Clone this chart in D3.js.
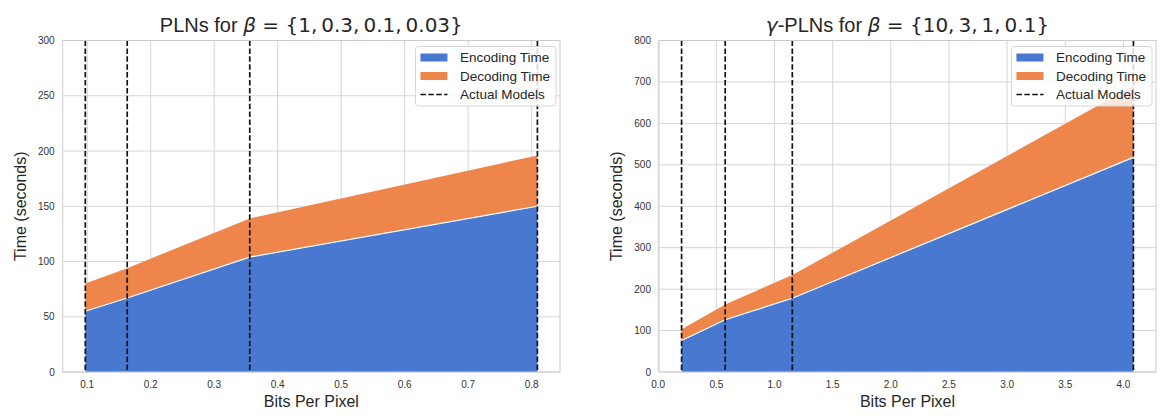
<!DOCTYPE html>
<html>
<head>
<meta charset="utf-8">
<script src="https://cdn.jsdelivr.net/npm/d3@7"></script>
<style>
  html, body { margin: 0; padding: 0; background: #fff; }
  svg { display: block; }
</style>
</head>
<body>
<script>
// ---- Data ----
const bppPLN = [0.097, 0.163, 0.356, 0.809];
const encPLN = [55, 67, 104, 150];
const decPLN = [25, 27, 35, 46];

const bppGPLN = [0.201, 0.576, 1.153, 4.086];
const encGPLN = [76, 126, 178, 518];
const decGPLN = [27, 37, 56, 172];

const xTicksPLN = [0.1, 0.2, 0.3, 0.4, 0.5, 0.6, 0.7, 0.8];
const yTicksPLN = [0, 50, 100, 150, 200, 250, 300];
const xTicksGPLN = [0.0, 0.5, 1.0, 1.5, 2.0, 2.5, 3.0, 3.5, 4.0];
const yTicksGPLN = [0, 100, 200, 300, 400, 500, 600, 700, 800];

const legendLabels = ["Encoding Time", "Decoding Time", "Actual Models"];

const W = 1161, H = 416;
const BLUE = "#4878d0", ORANGE = "#ee854a";
const svg = d3.select("body").append("svg").attr("width", W).attr("height", H);

function panel(opts) {
  const {left, right, top, bottom, bpp, enc, dec, xTicks, yTicks, yMax, xFmt, titleParts} = opts;
  const ext = d3.extent(bpp);
  const pad = (ext[1] - ext[0]) * 0.05;
  const x = d3.scaleLinear().domain([ext[0] - pad, ext[1] + pad]).range([left, right]);
  const y = d3.scaleLinear().domain([0, yMax]).range([bottom, top]);
  const g = svg.append("g");
  const clipId = "clip" + Math.round(left);
  g.append("clipPath").attr("id", clipId).append("rect")
    .attr("x", left).attr("y", top).attr("width", right - left).attr("height", bottom - top);

  // grid
  g.selectAll(".gx").data(xTicks).join("line")
    .attr("x1", d => x(d)).attr("x2", d => x(d)).attr("y1", top).attr("y2", bottom)
    .attr("stroke", "#d6d6d6").attr("stroke-width", 1);
  g.selectAll(".gy").data(yTicks).join("line")
    .attr("x1", left).attr("x2", right).attr("y1", d => y(d)).attr("y2", d => y(d))
    .attr("stroke", "#d6d6d6").attr("stroke-width", 1);

  const pts = bpp.map((b, i) => ({x: b, e: enc[i], t: enc[i] + dec[i]}));
  const plot = g.append("g").attr("clip-path", `url(#${clipId})`);
  plot.append("path").datum(pts)
    .attr("d", d3.area().x(d => x(d.x)).y0(d => y(d.e)).y1(d => y(d.t)))
    .attr("fill", ORANGE);
  plot.append("path").datum(pts)
    .attr("d", d3.area().x(d => x(d.x)).y0(y(0)).y1(d => y(d.e)))
    .attr("fill", BLUE);
  plot.append("path").datum(pts)
    .attr("d", d3.line().x(d => x(d.x)).y(d => y(d.e)))
    .attr("fill", "none").attr("stroke", "#fff").attr("stroke-width", 1.2);

  // dashed vertical lines
  plot.selectAll(".vl").data(bpp).join("line")
    .attr("x1", d => x(d)).attr("x2", d => x(d)).attr("y1", top).attr("y2", bottom)
    .attr("stroke", "#111").attr("stroke-width", 1.7).attr("stroke-dasharray", "5.5,2.4");

  // spines
  g.append("rect").attr("x", left).attr("y", top).attr("width", right - left).attr("height", bottom - top)
    .attr("fill", "none").attr("stroke", "#cccccc").attr("stroke-width", 1);

  // tick labels
  g.selectAll(".xt").data(xTicks).join("text")
    .attr("x", d => x(d)).attr("y", bottom + 16)
    .attr("text-anchor", "middle").attr("font-family", "Liberation Sans, Arial, sans-serif")
    .attr("font-size", 10).attr("fill", "#333").text(xFmt);
  g.selectAll(".yt").data(yTicks).join("text")
    .attr("x", left - 8).attr("y", d => y(d)).attr("dy", "0.35em")
    .attr("text-anchor", "end").attr("font-family", "Liberation Sans, Arial, sans-serif")
    .attr("font-size", 10).attr("fill", "#333").text(d => d);

  // axis labels
  g.append("text").attr("x", (left + right) / 2).attr("y", 407)
    .attr("text-anchor", "middle").attr("font-family", "Liberation Sans, Arial, sans-serif")
    .attr("font-size", 16).attr("fill", "#262626").text("Bits Per Pixel");
  g.append("text").attr("transform", `translate(${left - 37},${(top + bottom) / 2}) rotate(-90)`)
    .attr("text-anchor", "middle").attr("font-family", "Liberation Sans, Arial, sans-serif")
    .attr("font-size", 16).attr("fill", "#262626").text("Time (seconds)");

  // title
  const t = g.append("text").attr("x", (left + right) / 2).attr("y", 32)
    .attr("text-anchor", "middle").attr("font-size", 20).attr("fill", "#262626");
  titleParts.forEach(p => {
    t.append("tspan").attr("font-family", p.f).attr("font-style", p.i ? "italic" : "normal").text(p.s);
  });

  // legend
  const lg = g.append("g");
  const fs = 13.5;
  const rowH = 18.5;
  const tmp = lg.append("text").attr("font-family", "Liberation Sans, Arial, sans-serif").attr("font-size", fs)
    .text("Decoding Time");
  const tw = tmp.node().getComputedTextLength();
  tmp.remove();
  const boxW = 5 + 27 + 12.5 + tw + 6;
  const boxH = 59.5;
  const bx = right - 4 - boxW, by = top + 6;
  lg.append("rect").attr("x", bx).attr("y", by).attr("width", boxW).attr("height", boxH)
    .attr("rx", 3).attr("fill", "#fff").attr("fill-opacity", 0.82)
    .attr("stroke", "#d6d6d6").attr("stroke-width", 1);
  legendLabels.forEach((lab, i) => {
    const cy = by + 11 + i * rowH;
    if (i < 2) {
      lg.append("rect").attr("x", bx + 5).attr("y", cy - 4).attr("width", 27).attr("height", 8)
        .attr("fill", i === 0 ? BLUE : ORANGE);
    } else {
      lg.append("line").attr("x1", bx + 5).attr("x2", bx + 32).attr("y1", cy).attr("y2", cy)
        .attr("stroke", "#111").attr("stroke-width", 1.7).attr("stroke-dasharray", "5.5,2.4");
    }
    lg.append("text").attr("x", bx + 5 + 27 + 12.5).attr("y", cy).attr("dy", "0.36em")
      .attr("font-family", "Liberation Sans, Arial, sans-serif").attr("font-size", fs)
      .attr("fill", "#262626").text(lab);
  });
}

const SANS = "Liberation Sans, Arial, sans-serif";
const DJ = "DejaVu Sans, sans-serif";
const TS = "\u2009"; // thin space

panel({
  left: 62.7, right: 560, top: 40.5, bottom: 372,
  bpp: bppPLN, enc: encPLN, dec: decPLN,
  xTicks: xTicksPLN, yTicks: yTicksPLN, yMax: 300,
  xFmt: d => d.toFixed(1),
  titleParts: [{s: "PLNs for ", f: SANS}, {s: "β", f: DJ, i: true},
               {s: " = {1," + TS + "0.3," + TS + "0.1," + TS + "0.03}", f: DJ}]
});
panel({
  left: 659, right: 1156, top: 40.5, bottom: 372,
  bpp: bppGPLN, enc: encGPLN, dec: decGPLN,
  xTicks: xTicksGPLN, yTicks: yTicksGPLN, yMax: 800,
  xFmt: d => d.toFixed(1),
  titleParts: [{s: "γ", f: DJ, i: true}, {s: "-PLNs for ", f: SANS}, {s: "β", f: DJ, i: true},
               {s: " = {10," + TS + "3," + TS + "1," + TS + "0.1}", f: DJ}]
});
</script>
</body>
</html>
